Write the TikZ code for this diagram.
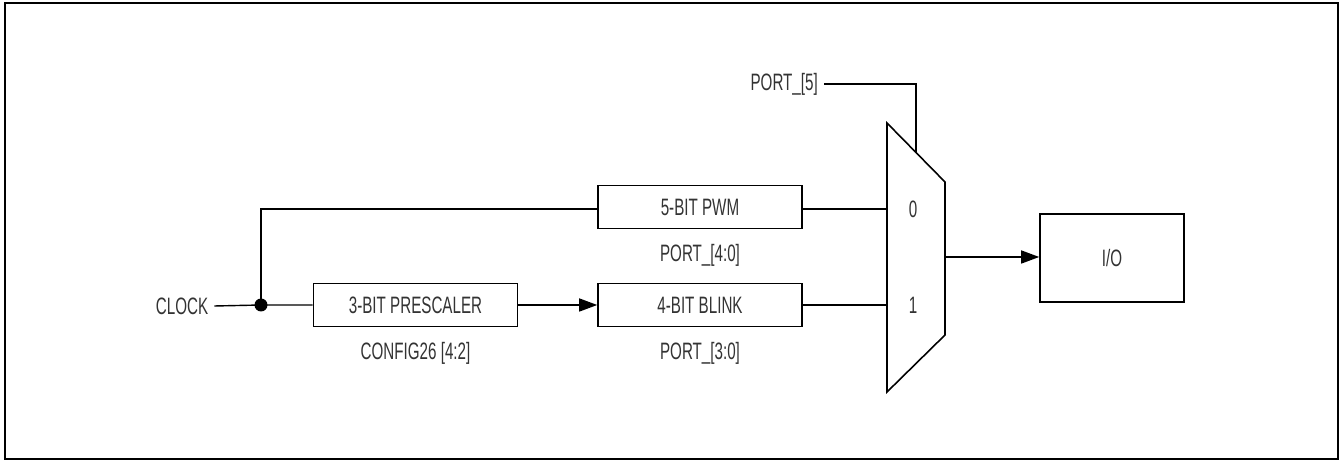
\documentclass[tikz,border=0pt]{standalone}
\usepackage{fontspec}
\setmainfont{Liberation Sans}[FakeStretch=0.64]
\usepackage{tikz}
\usetikzlibrary{arrows.meta, positioning, calc}
\definecolor{labelgray}{rgb}{0.2, 0.2, 0.2}

\begin{document}
\begin{tikzpicture}[
			x={(0.02cm,0)}, y={(0,-0.02cm)},
			every node/.style={font=\fontsize{13.5}{15}\selectfont, text=labelgray},
			blockbox/.style={draw=black, line width=0.9pt, minimum width=4.08cm, minimum height=0.86cm, inner sep=0pt},
			wire/.style={line width=0.8pt},
			arrowstyle/.style={-{Triangle[length=3.6mm, width=2.6mm]}, line width=0.8pt}
		]
		\useasboundingbox (0,0) rectangle (1340,462);
		\draw[line width=1.2pt] (5,3) rectangle (1338,459);
		\node (clk) at (182,306) {CLOCK};
		\node[blockbox] (pre) at (415.5,305) {3-BIT PRESCALER};
		\node[below=1.8mm of pre] (precfg) {CONFIG26 [4:2]};
		\node[blockbox] (pwm) at (700,207) {5-BIT PWM};
		\node[below=1.8mm of pwm] (pwmcfg) {PORT\_[4:0]};
		\node[blockbox] (blink) at (700,305) {4-BIT BLINK};
		\node[below=1.8mm of blink] (blinkcfg) {PORT\_[3:0]};
		\node[draw=black, line width=0.9pt, minimum width=2.88cm, minimum height=1.76cm] (io) at (1112,258) {I/O};
		\node[anchor=east] (sel) at (824,84) {PORT\_[5]};
		\coordinate (muxtl) at (887,123);
		\coordinate (muxtr) at (945,182);
		\coordinate (muxbr) at (945,335);
		\coordinate (muxbl) at (887,392);
		\coordinate (mux0) at (887,209);
		\coordinate (mux1) at (887,305);
		\coordinate (muxout) at (945,257);
		\coordinate (muxsel) at (916,152.5);
		\coordinate (split) at (261,305);
		\draw[line width=0.9pt] (muxtl) -- (muxtr) -- (muxbr) -- (muxbl) -- cycle;
		\node (in0) at (913,209) {0};
		\node (in1) at (913,305) {1};
		\draw[wire] (clk.east) -- (split) -- (pre.west);
		\draw[wire] (split) |- (pwm.west |- mux0);
		\fill (split) circle (0.13cm);
		\draw[arrowstyle] (pre.east) -- (blink.west);
		\draw[wire] (pwm.east |- mux0) -- (mux0);
		\draw[wire] (blink.east) -- (mux1);
		\draw[arrowstyle] (muxout) -- (muxout -| io.west);
		\draw[wire] (sel.east) -| (muxsel);
	\end{tikzpicture}
\end{document}
